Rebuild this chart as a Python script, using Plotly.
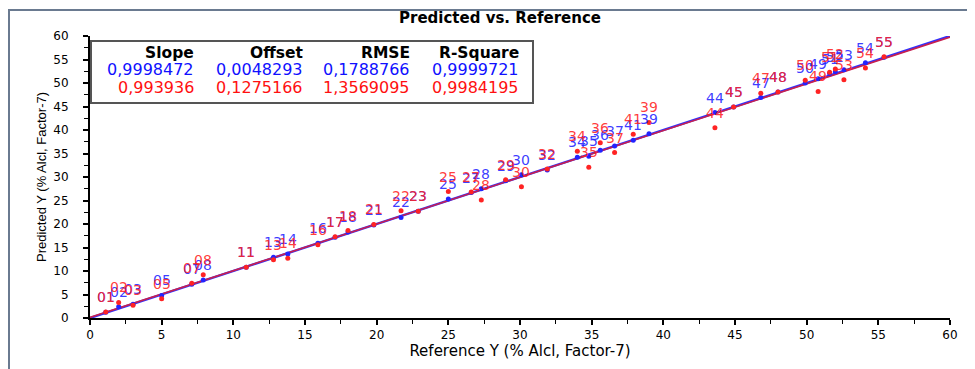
import plotly.graph_objects as go

# ---------------- data ----------------
samples = ["01", "02", "03", "05", "07", "08", "11", "13", "14", "16", "17", "18",
           "21", "22", "23", "25", "27", "28", "29", "30", "32", "34", "35", "36",
           "37", "39", "41", "44", "45", "47", "48", "49", "50", "51", "52", "53",
           "54", "55"]
reference_y = [1.1, 2.0, 3.0, 5.0, 7.1, 7.9, 10.9, 12.8, 13.8, 15.9, 17.1, 18.0,
               19.8, 21.7, 22.9, 25.0, 26.6, 27.3, 29.0, 30.1, 31.9, 34.0, 34.8, 35.6,
               36.6, 39.0, 37.9, 43.6, 44.9, 46.8, 48.0, 50.8, 49.9, 51.6, 52.0, 52.6,
               54.1, 55.4]
predicted_cal = [1.2, 2.4, 2.9, 4.8, 7.2, 8.1, 10.8, 12.9, 13.6, 15.9, 17.2, 18.3,
                 19.8, 21.4, 22.7, 25.3, 26.7, 27.5, 29.2, 30.5, 31.5, 34.2, 34.4, 35.7,
                 36.6, 39.2, 37.8, 43.7, 44.9, 46.9, 48.1, 50.9, 50.0, 52.0, 52.4, 52.8,
                 54.3, 55.5]
predicted_val = [1.3, 3.3, 2.7, 4.1, 7.4, 9.2, 10.8, 12.4, 12.7, 15.6, 17.3, 18.6,
                 19.9, 22.8, 22.7, 26.9, 26.8, 25.1, 29.4, 27.9, 31.7, 35.5, 32.1, 37.3,
                 35.2, 41.6, 39.1, 40.5, 44.9, 47.8, 48.1, 48.2, 50.6, 52.3, 53.0, 50.7,
                 53.2, 55.6]

stat_headers = ["Slope", "Offset", "RMSE", "R-Square"]
stats_cal = ["0,9998472", "0,0048293", "0,1788766", "0,9999721"]
stats_val = ["0,993936", "0,1275166", "1,3569095", "0,9984195"]

title_text = "Predicted vs. Reference"
x_title = "Reference Y (% Alcl, Factor-7)"
y_title = "Predicted Y (% Alcl, Factor-7)"

# ---------------- style ----------------
BLUE = "#2323ff"
RED = "#ff2323"
OFF = 8                      # page body margin
W, H = 975 - OFF, 369 - OFF
ML, MR, MT, MB = 90 - OFF, 25, 36 - OFF, 51
PW, PH = W - ML - MR, H - MT - MB


def pxx(px):
    return (px - OFF - ML) / PW


def pxy(py):
    return (H - MB - (py - OFF)) / PH


def num(s):
    return float(s.replace(",", "."))


fig = go.Figure()

# regression lines (from slope / offset)
line_x = [0, 60]
for stats, col, wid in [(stats_cal, "#3030ff", 2.4), (stats_val, "#c8204e", 1.6)]:
    s, o = num(stats[0]), num(stats[1])
    fig.add_trace(go.Scatter(x=line_x, y=[o + s * v for v in line_x], mode="lines",
                             line=dict(color=col, width=wid), hoverinfo="skip",
                             showlegend=False, cliponaxis=False))

fig.add_trace(go.Scatter(x=reference_y, y=predicted_cal, mode="markers",
                         marker=dict(color=BLUE, size=5), showlegend=False))
fig.add_trace(go.Scatter(x=reference_y, y=predicted_val, mode="markers",
                         marker=dict(color=RED, size=5), showlegend=False))

annotations = []
lab_font = "DejaVu Sans"
for s, xv, yv in zip(samples, reference_y, predicted_cal):
    annotations.append(dict(x=xv, y=yv, xref="x", yref="y", text=s, showarrow=False,
                            yshift=15, font=dict(family=lab_font, size=14,
                                                 color="rgba(35,35,255,0.88)")))
for s, xv, yv in zip(samples, reference_y, predicted_val):
    annotations.append(dict(x=xv, y=yv, xref="x", yref="y", text=s, showarrow=False,
                            yshift=15, font=dict(family=lab_font, size=14,
                                                 color="rgba(255,35,35,0.88)")))

# stats table
col_right = [196, 305, 412, 521]
for i in range(4):
    annotations.append(dict(x=pxx(col_right[i]), y=pxy(53), xref="paper", yref="paper",
                            text=stat_headers[i], showarrow=False, xanchor="right",
                            yanchor="middle",
                            font=dict(family="DejaVu Sans", size=15.5, color="black",
                                      weight="bold")))
    annotations.append(dict(x=pxx(col_right[i]), y=pxy(70), xref="paper", yref="paper",
                            text=stats_cal[i], showarrow=False, xanchor="right",
                            yanchor="middle",
                            font=dict(family="DejaVu Sans", size=16, color="#1010ff")))
    annotations.append(dict(x=pxx(col_right[i]), y=pxy(87), xref="paper", yref="paper",
                            text=stats_val[i], showarrow=False, xanchor="right",
                            yanchor="middle",
                            font=dict(family="DejaVu Sans", size=16, color="#ff1010")))

# title
annotations.append(dict(x=pxx(500), y=pxy(18), xref="paper", yref="paper",
                        text=title_text, showarrow=False, xanchor="center",
                        yanchor="middle",
                        font=dict(family="DejaVu Sans", size=15, color="black",
                                  weight="bold")))

shapes = [
    # outer frame
    dict(type="rect", xref="paper", yref="paper", x0=pxx(9), x1=pxx(990),
         y0=pxy(390), y1=pxy(10), line=dict(color="#6a7a90", width=2),
         fillcolor="rgba(0,0,0,0)", layer="below"),
    # stats box
    dict(type="rect", xref="paper", yref="paper", x0=pxx(91), x1=pxx(533),
         y0=pxy(103), y1=pxy(41), line=dict(color="#555555", width=2),
         fillcolor="white", layer="above"),
]

axis_common = dict(range=[0, 60], showgrid=False, zeroline=False, showline=True,
                   linecolor="black", linewidth=2, ticks="outside", ticklen=5,
                   tickwidth=1.5, tickcolor="black", dtick=5, tick0=0,
                   automargin=False,
                   minor=dict(dtick=2.5, ticks="outside", ticklen=4, tickwidth=1.2,
                              tickcolor="black", showgrid=False))

fig.update_layout(
    width=W, height=H,
    margin=dict(l=ML, r=MR, t=MT, b=MB, pad=0, autoexpand=False),
    paper_bgcolor="white", plot_bgcolor="white",
    xaxis=dict(**axis_common,
               tickfont=dict(family="DejaVu Sans", size=12, color="black"),
               title=dict(text=x_title, standoff=4,
                          font=dict(family="DejaVu Sans", size=15, color="black"))),
    yaxis=dict(**axis_common,
               tickfont=dict(family="DejaVu Sans", size=12, color="black"),
               ticklabelstandoff=12,
               title=dict(text=y_title, standoff=4,
                          font=dict(family="Liberation Sans", size=13, color="black"))),
    annotations=annotations,
    shapes=shapes,
    showlegend=False,
)

fig.write_html("out.html")
